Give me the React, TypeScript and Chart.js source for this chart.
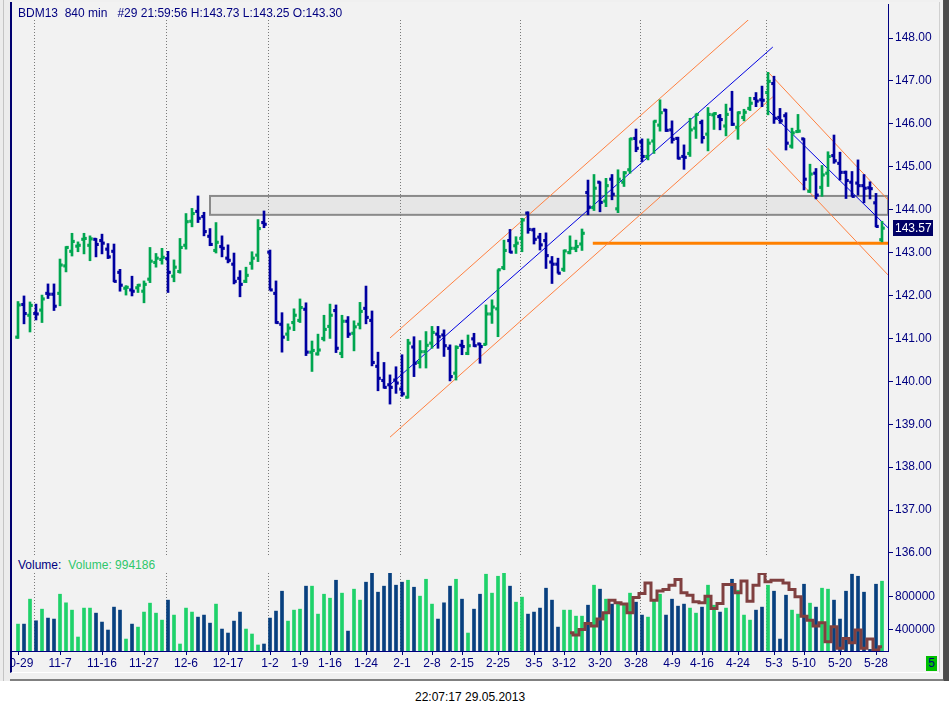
import { useEffect, useRef } from 'react';
import { Chart, registerables } from 'chart.js';

Chart.register(...registerables);

// OHLC for BDM13, 840 min bars (10-29 .. 5-28)
const OPEN = [
  141.03, 141.79, 141.54, 141.58, 141.66, 142.05, 142.03, 142.05, 142.69, 143.03,
  143.15, 143.31, 143.17, 143.31, 143.28, 143.08, 143.03, 142.54, 142.17, 142.13,
  142.18, 142.10, 142.38, 142.77, 142.84, 142.86, 142.45, 142.56, 143.17, 143.73,
  143.96, 143.84, 143.38, 143.05, 143.14, 142.87, 142.73, 142.40, 142.33, 142.75,
  142.94, 143.70, 143.01, 142.05, 141.33, 141.10, 141.37, 141.42, 141.68, 140.68,
  140.64, 141.00, 141.28, 141.65, 140.65, 141.40, 141.12, 141.33, 141.70, 141.42,
  140.35, 140.02, 139.92, 140.03, 139.82, 139.63, 140.80, 140.44, 140.69, 140.89,
  141.10, 141.08, 140.77, 140.19, 140.84, 140.65, 140.99, 140.87, 140.86, 141.57,
  141.69, 142.65, 143.28, 143.16, 143.33, 143.92, 143.53, 143.36, 143.28, 142.78,
  142.73, 142.61, 143.00, 143.10, 143.20, 144.40, 144.05, 144.64, 144.20, 144.71,
  144.02, 144.64, 144.93, 145.66, 145.58, 145.24, 145.60, 145.97, 146.32, 145.86,
  145.66, 145.24, 145.31, 145.90, 146.03, 145.76, 146.21, 146.17, 145.95, 146.34,
  145.92, 146.15, 146.36, 146.59, 146.56, 146.73, 146.94, 146.15, 146.19, 145.48,
  145.82, 145.65, 144.43, 144.85, 144.52, 144.85, 145.26, 145.08, 144.87, 144.64,
  144.62, 144.56, 144.51, 144.16, 143.30,
];
const HIGH = [
  141.86, 141.99, 141.85, 141.80, 142.01, 142.27, 142.27, 142.85, 143.14, 143.45,
  143.25, 143.45, 143.39, 143.33, 143.43, 143.21, 143.20, 142.61, 142.23, 142.45,
  142.26, 142.34, 143.12, 142.98, 143.10, 143.03, 142.83, 143.33, 143.91, 144.03,
  144.32, 143.94, 143.56, 143.70, 143.39, 143.18, 142.99, 142.58, 142.66, 143.02,
  143.77, 143.97, 143.06, 142.34, 141.60, 141.34, 141.69, 141.92, 141.83, 140.94,
  141.10, 141.54, 141.80, 141.78, 141.54, 141.51, 141.41, 141.84, 142.22, 141.64,
  140.68, 140.44, 140.15, 140.34, 140.62, 140.98, 141.04, 140.95, 141.16, 141.28,
  141.28, 141.20, 140.85, 140.83, 140.96, 141.08, 141.12, 140.89, 141.78, 141.90,
  142.60, 143.29, 143.54, 143.37, 143.80, 143.95, 143.57, 143.45, 143.46, 142.91,
  142.87, 143.06, 143.39, 143.29, 143.55, 144.69, 144.82, 144.65, 144.73, 144.82,
  144.93, 144.89, 145.66, 145.88, 145.65, 145.65, 146.07, 146.56, 146.34, 146.07,
  145.69, 145.51, 146.13, 146.23, 146.09, 146.38, 146.26, 146.22, 146.46, 146.76,
  146.28, 146.34, 146.62, 146.73, 146.88, 147.20, 147.11, 146.36, 146.26, 145.90,
  146.22, 145.66, 145.06, 144.96, 145.03, 145.35, 145.74, 145.34, 144.90, 144.89,
  145.16, 144.82, 144.65, 144.38, 143.73,
];
const LOW = [
  141.00, 141.34, 141.15, 141.43, 141.37, 141.93, 141.65, 141.76, 142.55, 142.92,
  143.02, 142.97, 142.81, 142.90, 142.97, 142.86, 142.32, 142.10, 142.01, 141.99,
  142.07, 141.83, 142.30, 142.66, 142.73, 142.07, 142.32, 142.52, 143.08, 143.60,
  143.70, 143.39, 143.16, 142.99, 142.90, 142.76, 142.27, 141.97, 142.30, 142.61,
  142.79, 143.58, 142.13, 141.35, 140.68, 140.95, 141.18, 141.37, 140.60, 140.23,
  140.61, 140.94, 141.00, 140.67, 140.55, 141.02, 140.71, 141.22, 141.34, 140.36,
  139.78, 139.84, 139.47, 139.72, 139.65, 139.61, 140.11, 140.31, 140.31, 140.77,
  140.77, 140.58, 140.01, 140.03, 140.62, 140.62, 140.81, 140.42, 140.85, 141.35,
  141.04, 142.60, 143.00, 142.98, 143.02, 143.45, 143.20, 143.06, 142.63, 142.28,
  142.52, 142.56, 142.97, 143.02, 143.05, 143.88, 143.98, 143.95, 144.07, 144.23,
  143.93, 144.54, 144.85, 145.35, 145.12, 145.16, 145.31, 145.83, 145.82, 145.55,
  145.18, 144.94, 145.24, 145.66, 145.55, 145.37, 145.87, 145.86, 145.72, 145.96,
  145.64, 146.07, 146.31, 146.40, 146.40, 146.21, 146.01, 146.01, 145.39, 145.43,
  145.80, 144.46, 144.40, 144.25, 144.31, 144.54, 145.08, 144.69, 144.26, 144.31,
  144.34, 144.16, 144.25, 143.60, 143.25,
];
const CLOSE = [
  141.78, 141.58, 141.77, 141.57, 141.92, 142.03, 141.75, 142.71, 143.12, 143.26,
  143.17, 143.33, 143.32, 143.19, 143.22, 142.90, 142.33, 142.24, 142.19, 142.10,
  142.24, 142.26, 142.80, 142.87, 142.89, 142.54, 142.66, 143.12, 143.72, 143.91,
  143.80, 143.49, 143.19, 143.24, 143.10, 142.82, 142.33, 142.26, 142.47, 142.87,
  143.56, 143.66, 142.13, 141.37, 141.03, 141.24, 141.54, 141.72, 140.68, 140.72,
  140.73, 141.21, 141.54, 140.77, 141.40, 141.10, 141.27, 141.63, 141.49, 140.44,
  140.07, 139.86, 139.86, 139.96, 139.71, 140.89, 140.42, 140.69, 140.84, 141.14,
  141.04, 140.83, 140.11, 140.79, 140.81, 140.83, 140.83, 140.81, 141.57, 141.73,
  142.60, 143.05, 143.01, 143.22, 143.76, 143.54, 143.31, 143.18, 142.93, 142.73,
  142.52, 143.04, 143.10, 143.14, 143.45, 144.06, 144.50, 144.17, 144.56, 144.36,
  144.71, 144.86, 145.65, 145.43, 145.24, 145.55, 146.06, 146.26, 145.85, 145.64,
  145.20, 145.22, 145.86, 146.22, 145.68, 146.22, 146.24, 146.10, 146.22, 145.99,
  146.26, 146.27, 146.48, 146.53, 146.55, 146.99, 146.13, 146.07, 145.55, 145.79,
  145.83, 144.71, 144.83, 144.34, 144.81, 145.24, 145.14, 144.87, 144.68, 144.31,
  144.56, 144.50, 144.49, 143.61, 143.57,
];
const VOLUME = [
  466000, 466000, 773000, 507000, 650000, 540000, 528000, 834000, 728000, 638000,
  307000, 663000, 663000, 601000, 491000, 393000, 675000, 638000, 282000, 466000,
  429000, 614000, 724000, 601000, 515000, 761000, 577000, 221000, 663000, 614000,
  552000, 577000, 478000, 712000, 405000, 356000, 503000, 614000, 405000, 344000,
  209000, 221000, 540000, 626000, 871000, 503000, 638000, 650000, 933000, 933000,
  589000, 834000, 785000, 1006000, 847000, 380000, 896000, 761000, 982000, 1092000,
  859000, 933000, 1092000, 945000, 982000, 1006000, 920000, 810000, 1018000, 712000,
  528000, 728000, 933000, 1018000, 773000, 356000, 650000, 834000, 1080000, 847000,
  1055000, 1092000, 933000, 736000, 798000, 589000, 614000, 663000, 908000, 761000,
  429000, 638000, 638000, 564000, 564000, 699000, 945000, 896000, 773000, 712000,
  736000, 712000, 847000, 736000, 577000, 552000, 761000, 834000, 577000, 773000,
  687000, 712000, 663000, 601000, 675000, 945000, 699000, 614000, 663000, 1018000,
  883000, 577000, 515000, 638000, 675000, 945000, 871000, 282000, 822000, 638000,
  589000, 957000, 724000, 675000, 908000, 896000, 761000, 528000, 871000, 1080000,
  1055000, 859000, 155000, 957000, 994186,
];
// volume average (brown step line), starts at bar 92
const VOLUME_MA_START = 92;
const VOLUME_MA = [
  360000, 331000, 401000, 474000, 442000, 528000, 605000, 761000, 728000, 712000,
  605000, 794000, 843000, 973000, 761000, 875000, 892000, 945000, 1015000, 851000,
  822000, 740000, 728000, 810000, 659000, 720000, 953000, 953000, 851000, 998000,
  748000, 945000, 1088000, 986000, 1006000, 1006000, 973000, 892000, 802000, 564000,
  515000, 442000, 483000, 250000, 434000, 168000, 290000, 237000, 393000, 168000,
  282000, 147000, 188000,
];

const DATE_TICK_BARS = [0, 7, 14, 21, 28, 35, 42, 47, 52, 58, 64, 69, 74, 80, 86, 91, 97, 103, 109, 114, 120, 126, 131, 137, 143];
const DATE_LABELS = ['10-29', '11-7', '11-16', '11-27', '12-6', '12-17', '1-2', '1-9', '1-16', '1-24', '2-1', '2-8', '2-15', '2-25', '3-5', '3-12', '3-20', '3-28', '4-9', '4-16', '4-24', '5-3', '5-10', '5-20', '5-28'];
const MONTH_BREAKS = [2.67, 24.67, 41.67, 63.67, 83.67, 103.67, 124.67];
const PRICE_TICKS = [136, 137, 138, 139, 140, 141, 142, 143, 144, 145, 146, 147, 148];
const VOLUME_TICKS = [400000, 800000];

// drawing tools on the chart (bar index, price)
const UP_X = [62, 125.8];
const UP_MID = [139.92, 147.79];
const UP_UPPER = [141.01, 148.93];
const UP_LOWER = [138.7, 146.63];
const DOWN_X = [125, 145];
const DOWN_MID = [146.32, 143.58];
const DOWN_UPPER = [147.21, 144.23];
const DOWN_LOWER = [145.43, 142.48];
const SUPPORT_X = [95.8, 145];
const SUPPORT = [143.22, 143.22];
const ZONE_X = [32, 145];
const ZONE = [143.88, 144.32];

const AXIS = '#000080';
const FONT = '"Liberation Sans", Arial, sans-serif';
const PRICE_UP = '#00a650';
const PRICE_DOWN = '#0000a0';
const VOL_UP = '#1fd26a';
const VOL_DOWN = '#08407f';

Chart.defaults.font.family = FONT;
Chart.defaults.font.size = 12;

const segment = (xs: number[], ys: number[], color: string, width: number) => ({
  type: 'line' as const,
  data: xs.map((x, k) => ({ x, y: ys[k] })),
  borderColor: color,
  borderWidth: width,
  pointRadius: 0,
  tension: 0,
  order: 2,
});

// no automatic label padding: the plot areas must line up exactly
const noPad = (s: any) => {
  s.paddingTop = 0;
  s.paddingBottom = 0;
  s.paddingLeft = 0;
  s.paddingRight = 0;
};

const zonePlugin = {
  id: 'zone',
  beforeDraw(chart: any) {
    const { ctx, scales } = chart;
    const left = scales.x.getPixelForValue(ZONE_X[0]);
    const right = scales.x.getPixelForValue(ZONE_X[1]);
    const top = scales.y.getPixelForValue(ZONE[1]);
    const bottom = scales.y.getPixelForValue(ZONE[0]);
    ctx.save();
    ctx.fillStyle = '#e6e6e6';
    ctx.fillRect(left, top, right - left, bottom - top);
    ctx.strokeStyle = '#8a8a8a';
    ctx.lineWidth = 2;
    ctx.strokeRect(left, top, right - left, bottom - top);
    ctx.restore();
  },
};

const lastPricePlugin = {
  id: 'lastPrice',
  afterDraw(chart: any) {
    const { ctx, chartArea, scales } = chart;
    const last = CLOSE[CLOSE.length - 1];
    const y = Math.round(scales.y.getPixelForValue(last));
    ctx.save();
    ctx.fillStyle = '#000066';
    ctx.fillRect(chartArea.right + 5, y - 8, 40, 16);
    ctx.fillStyle = '#ffffff';
    ctx.font = `12px ${FONT}`;
    ctx.textBaseline = 'middle';
    ctx.fillText(last.toFixed(2), chartArea.right + 7, y + 1);
    ctx.restore();
  },
};

export default function App() {
  const priceRef = useRef<HTMLCanvasElement>(null);
  const volumeRef = useRef<HTMLCanvasElement>(null);

  useEffect(() => {
    if (!priceRef.current || !volumeRef.current) return;

    const bars = OPEN.map((_, i) => i);
    const priceColors = bars.map(i => (CLOSE[i] >= OPEN[i] ? PRICE_UP : PRICE_DOWN));
    const volumeColors = bars.map(i => (CLOSE[i] >= OPEN[i] ? VOL_UP : VOL_DOWN));

    const priceChart = new Chart(priceRef.current, {
      type: 'bar',
      data: {
        datasets: [
          {
            type: 'bar',
            data: bars.map(i => ({ x: i, y: [LOW[i], HIGH[i]] })),
            backgroundColor: priceColors,
            borderWidth: 0,
            barThickness: 2,
            order: 1,
          },
          {
            type: 'line',
            data: bars.map(i => ({ x: i - 0.2, y: OPEN[i] })),
            showLine: false,
            pointStyle: 'rect',
            pointRadius: 2.2,
            pointBorderWidth: 0,
            pointBackgroundColor: priceColors,
            order: 0,
          },
          {
            type: 'line',
            data: bars.map(i => ({ x: i + 0.2, y: CLOSE[i] })),
            showLine: false,
            pointStyle: 'rect',
            pointRadius: 2.2,
            pointBorderWidth: 0,
            pointBackgroundColor: priceColors,
            order: 0,
          },
          segment(UP_X, UP_UPPER, '#ff8040', 1),
          segment(UP_X, UP_LOWER, '#ff8040', 1),
          segment(UP_X, UP_MID, '#0000e0', 1),
          segment(DOWN_X, DOWN_UPPER, '#ff8040', 1),
          segment(DOWN_X, DOWN_LOWER, '#ff8040', 1),
          segment(DOWN_X, DOWN_MID, '#0000e0', 1),
          segment(SUPPORT_X, SUPPORT, '#ff8000', 3),
        ],
      } as any,
      options: {
        animation: false,
        responsive: false,
        events: [],
        layout: { padding: { top: 16, left: 0, right: 0, bottom: 0 }, autoPadding: false },
        plugins: { legend: { display: false }, tooltip: { enabled: false } },
        scales: {
          x: {
            type: 'linear',
            min: -1,
            max: 145,
            offset: false,
            position: 'bottom',
            afterBuildTicks: (s: any) => { s.ticks = MONTH_BREAKS.map(v => ({ value: v })); },
            afterFit: (s: any) => { s.height = 0; noPad(s); },
            ticks: { display: false },
            grid: { drawTicks: false, color: '#7a7a7a', lineWidth: 1, offset: false },
            border: { display: false, dash: [1, 2] },
          },
          y: {
            type: 'linear',
            position: 'right',
            min: 135.93,
            max: 148.42,
            afterBuildTicks: (s: any) => { s.ticks = PRICE_TICKS.map(v => ({ value: v })); },
            afterFit: (s: any) => { s.width = 57; noPad(s); },
            ticks: { color: AXIS, padding: 2, callback: (v: any) => Number(v).toFixed(2) },
            grid: { drawOnChartArea: false, drawTicks: true, tickLength: 5, tickColor: AXIS },
            border: { display: true, color: AXIS, width: 1 },
          },
        },
      } as any,
      plugins: [zonePlugin, lastPricePlugin],
    });

    const volumeChart = new Chart(volumeRef.current, {
      type: 'bar',
      data: {
        datasets: [
          {
            type: 'line',
            data: VOLUME_MA.map((v, k) => ({ x: VOLUME_MA_START + k, y: v })),
            stepped: 'middle',
            borderColor: '#804040',
            borderWidth: 3,
            pointRadius: 0,
            order: 0,
          },
          {
            type: 'bar',
            data: VOLUME.map((v, i) => ({ x: i, y: v })),
            backgroundColor: volumeColors,
            borderWidth: 0,
            barThickness: 3,
            order: 1,
          },
        ],
      } as any,
      options: {
        animation: false,
        responsive: false,
        events: [],
        layout: { padding: 0, autoPadding: false },
        plugins: { legend: { display: false }, tooltip: { enabled: false } },
        scales: {
          x: {
            type: 'linear',
            min: -1,
            max: 145,
            offset: false,
            position: 'bottom',
            afterBuildTicks: (s: any) => { s.ticks = DATE_TICK_BARS.map(v => ({ value: v })); },
            afterFit: (s: any) => { s.height = 22; noPad(s); },
            ticks: {
              color: AXIS,
              autoSkip: false,
              maxRotation: 0,
              minRotation: 0,
              padding: 1,
              callback: (_v: any, idx: number) => DATE_LABELS[idx],
            },
            grid: { drawOnChartArea: false, drawTicks: true, tickLength: 4, tickColor: AXIS, offset: false },
            border: { display: true, color: AXIS, width: 1 },
          },
          months: {
            type: 'linear',
            axis: 'x',
            min: -1,
            max: 145,
            offset: false,
            position: 'top',
            afterBuildTicks: (s: any) => { s.ticks = MONTH_BREAKS.map(v => ({ value: v })); },
            afterFit: (s: any) => { s.height = 0; noPad(s); },
            ticks: { display: false },
            grid: { drawTicks: false, color: '#7a7a7a', lineWidth: 1, offset: false },
            border: { display: false, dash: [1, 2] },
          },
          y: {
            type: 'linear',
            position: 'right',
            min: 135000,
            max: 1095000,
            afterBuildTicks: (s: any) => { s.ticks = VOLUME_TICKS.map(v => ({ value: v })); },
            afterFit: (s: any) => { s.width = 57; noPad(s); },
            ticks: { color: AXIS, padding: 2, callback: (v: any) => String(v) },
            grid: { drawOnChartArea: false, drawTicks: true, tickLength: 5, tickColor: AXIS },
            border: { display: true, color: AXIS, width: 1 },
          },
        },
      } as any,
    });

    return () => {
      priceChart.destroy();
      volumeChart.destroy();
    };
  }, []);

  const last = OPEN.length - 1;
  const header = `BDM13  840 min   #29 21:59:56 H:${HIGH[last].toFixed(2)} L:${LOW[last].toFixed(2)} O:${OPEN[last].toFixed(2)}`;

  return (
    <div style={{ position: 'absolute', left: 0, top: 0, width: 949, height: 716, background: '#ffffff', overflow: 'hidden', fontFamily: FONT, fontSize: 12 }}>
      {/* neighbouring window strips */}
      <div style={{ position: 'absolute', left: 0, top: 0, width: 10, height: 681, background: '#ececec' }} />
      <div style={{ position: 'absolute', left: 3, top: 0, width: 1, height: 681, background: '#c4c4c4' }} />
      <div style={{ position: 'absolute', left: 944, top: 0, width: 5, height: 681, background: '#4a4a4a' }} />
      {/* chart frame */}
      <div style={{ position: 'absolute', left: 10, top: 0, width: 934, height: 681, background: '#f0f0f0', borderRight: '1px solid #505050', borderBottom: '2px solid #808080', boxSizing: 'border-box' }} />
      <div style={{ position: 'absolute', left: 10, top: 2, width: 930, height: 671, background: '#f2f2f2', borderLeft: '2px solid #000070', borderRight: '1px solid #d0d0d0', borderBottom: '1px solid #ffffff', boxSizing: 'border-box' }} />

      <canvas ref={priceRef} width={933} height={552} style={{ position: 'absolute', left: 12, top: 4, width: 933, height: 552 }} />
      <canvas ref={volumeRef} width={933} height={100} style={{ position: 'absolute', left: 12, top: 573, width: 933, height: 100 }} />

      {/* axis line continues across the panel gap */}
      <div style={{ position: 'absolute', left: 888, top: 4, width: 1, height: 648, background: AXIS }} />

      <div style={{ position: 'absolute', left: 18, top: 5, color: AXIS, whiteSpace: 'pre', lineHeight: '16px' }}>{header}</div>
      <div style={{ position: 'absolute', left: 18, top: 557, whiteSpace: 'pre', lineHeight: '16px' }}>
        <span style={{ color: AXIS }}>Volume:</span>
        <span style={{ color: '#2fc76b', marginLeft: 7 }}>Volume: {VOLUME[VOLUME.length - 1]}</span>
      </div>
      <div style={{ position: 'absolute', left: 926, top: 656, width: 11, height: 15, background: '#00c000', color: AXIS, textAlign: 'center', lineHeight: '15px' }}>5</div>
      <div style={{ position: 'absolute', left: 415, top: 689, color: '#000000', whiteSpace: 'pre', lineHeight: '16px' }}>22:07:17 29.05.2013</div>
    </div>
  );
}
